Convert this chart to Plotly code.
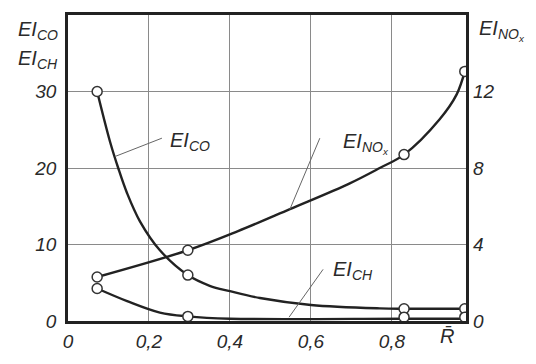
import plotly.graph_objects as go

# Relative parameter R̄ on the x axis
x_ticks = [0, 0.2, 0.4, 0.6, 0.8]
x_ticktext = ["0", "0,2", "0,4", "0,6", "0,8"]
left_ticks = [0, 10, 20, 30]
right_ticks = [0, 4, 8, 12]

# Measured points (circles)
r_pts = [0.072, 0.296, 0.83, 0.98]
ei_co_pts = [30, 6.0, 1.6, 1.6]
ei_ch_pts = [4.25, 0.6, 0.5, 0.5]
ei_nox_pts = [2.3, 3.7, 8.7, 13.05]

# Smooth curves through the points
r_co = [0.072, 0.104, 0.124, 0.146, 0.178, 0.227, 0.296, 0.35, 0.40, 0.474, 0.60, 0.77, 0.83, 0.98]
ei_co = [30, 23.4, 20, 16.7, 13, 9.25, 6.0, 4.6, 3.9, 3.0, 2.1, 1.65, 1.6, 1.6]

r_ch = [0.072, 0.146, 0.227, 0.296, 0.40, 0.83, 0.98]
ei_ch = [4.25, 2.6, 1.1, 0.6, 0.3, 0.3, 0.3]

r_nox = [0.072, 0.296, 0.42, 0.548, 0.696, 0.77, 0.83, 0.918, 0.96, 0.98]
ei_nox = [2.3, 3.7, 4.7, 5.85, 7.2, 8.0, 8.7, 10.55, 11.85, 13.05]

ink = "#222222"
font_family = "Liberation Sans, Arial, sans-serif"

# Plot area on the page, in pixels
PL, PR, PT, PB = 68, 466, 14, 334

fig = go.Figure()

line_style = dict(color=ink, width=2.4, shape="spline", smoothing=1.0)
marker_style = dict(symbol="circle", size=10, color="white", line=dict(color="#333333", width=1.5))

fig.add_trace(go.Scatter(x=r_co, y=ei_co, mode="lines", line=line_style, yaxis="y"))
fig.add_trace(go.Scatter(x=r_ch, y=ei_ch, mode="lines", line=line_style, yaxis="y"))
fig.add_trace(go.Scatter(x=r_nox, y=ei_nox, mode="lines", line=line_style, yaxis="y2"))

fig.add_trace(go.Scatter(x=r_pts, y=ei_co_pts, mode="markers", marker=marker_style, yaxis="y"))
fig.add_trace(go.Scatter(x=r_pts, y=ei_ch_pts, mode="markers", marker=marker_style, yaxis="y"))
fig.add_trace(go.Scatter(x=r_pts, y=ei_nox_pts, mode="markers", marker=marker_style, yaxis="y2"))

tick_font = dict(family=font_family, size=19, color="#2a2a2a")

fig.update_layout(
    width=536, height=364,
    margin=dict(l=PL, r=536 - PR, t=PT, b=364 - PB),
    paper_bgcolor="white", plot_bgcolor="white",
    showlegend=False,
    xaxis=dict(
        range=[0, 0.983], tickvals=x_ticks, ticktext=["<i>%s</i>" % t for t in x_ticktext],
        showgrid=True, gridcolor="#8a8a8a", gridwidth=1, zeroline=False,
        showline=True, linecolor=ink, linewidth=3, mirror=True,
        ticks="", tickfont=tick_font, ticklabelstandoff=1,
    ),
    yaxis=dict(
        range=[0, 40], tickvals=left_ticks, ticktext=["<i>%d</i>" % t for t in left_ticks],
        showgrid=True, gridcolor="#8a8a8a", gridwidth=1, zeroline=False,
        showline=True, linecolor=ink, linewidth=2.5, mirror=True,
        ticks="", tickfont=tick_font, ticklabelstandoff=5,
    ),
    yaxis2=dict(
        range=[0, 16], tickvals=right_ticks, ticktext=["<i>%d</i>" % t for t in right_ticks],
        overlaying="y", side="right", showgrid=False, zeroline=False,
        showline=False, ticks="", tickfont=tick_font, ticklabelstandoff=6,
    ),
)

label_font = dict(family=font_family, size=20, color="#2a2a2a")


def label(text, x, y):
    fig.add_annotation(text=text, x=x, y=y, xref="x", yref="y",
                       showarrow=False, font=label_font)


def page_label(text, px, py):
    # convert page pixels to plot-paper fractions
    fx = (px - PL) / (PR - PL)
    fy = (PB - py) / (PB - PT)
    fig.add_annotation(text=text, x=fx, y=fy, xref="paper", yref="paper",
                       showarrow=False, font=label_font, xanchor="center", yanchor="middle")


nox = "<i>EI<sub>NO<sub>x</sub></sub></i>"

# Axis captions
page_label("<i>EI<sub>CO</sub></i>", 38, 30)
page_label("<i>EI<sub>CH</sub></i>", 38, 61)
page_label(nox, 502, 30)
page_label("<i>R\u0304</i>", 447, 350)

# In-plot curve labels with thin leader lines
label("<i>EI<sub>CO</sub></i>", 0.302, 23.4)
label(nox, 0.735, 23.2)
label("<i>EI<sub>CH</sub></i>", 0.705, 6.6)

leader = dict(color="#666666", width=1)
fig.add_shape(type="line", x0=0.116, y0=21.5, x1=0.232, y1=23.9, xref="x", yref="y", line=leader)
fig.add_shape(type="line", x0=0.548, y0=14.6, x1=0.622, y1=23.9, xref="x", yref="y", line=leader)
fig.add_shape(type="line", x0=0.546, y0=0.5, x1=0.63, y1=6.75, xref="x", yref="y", line=leader)

fig.write_html("out.html")
